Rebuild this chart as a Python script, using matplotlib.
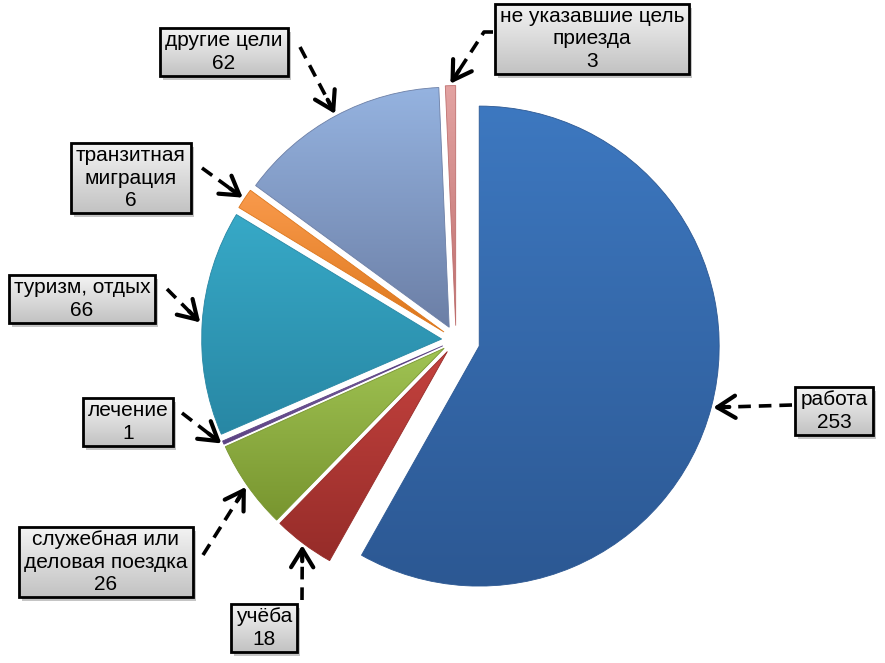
import numpy as np
import matplotlib
matplotlib.use('Agg')
import matplotlib.pyplot as plt
from matplotlib.patches import Rectangle
from matplotlib.colors import LinearSegmentedColormap

plt.rcParams['font.family'] = ['Liberation Sans', 'DejaVu Sans']

# === данные ===
categories = ['работа', 'учёба', 'служебная или\nделовая поездка', 'лечение',
              'туризм, отдых', 'транзитная\nмиграция', 'другие цели',
              'не указавшие цель\nприезда']
values = [253, 18, 26, 1, 66, 6, 62, 3]

# цвета секторов (светлый верх -> тёмный низ)
shades = [('#3D78C0', '#2C5893'), ('#C4423E', '#962C29'), ('#A0C353', '#78952F'),
          ('#8064A8', '#5C4384'), ('#37A9C7', '#2887A4'), ('#F99A4C', '#DD771C'),
          ('#95B3E0', '#6C7FA6'), ('#E3A3A2', '#BE6F6E')]
explode = [0.1, 0.06, 0.06, 0.06, 0.06, 0.06, 0.06, 0.06]

# центры подписей и начала выносок (в пикселях, y сверху)
box_centers = [(834, 411), (264, 628), (106, 562), (128, 422),
               (82, 299), (131, 178), (224, 52), (592, 39)]
line_starts = [[(792, 405)], [(302, 600)], [(203, 555)], [(182, 413)],
               [(167, 289)], [(202, 168)], [(300, 47)], [(493, 32), (484, 32)]]

W, H = 885, 663


def py(y):
    return H - y


fig = plt.figure(figsize=(W / 100, H / 100), dpi=100)
ax = fig.add_axes([0, 0, 1, 1])

R = 240
center = (456, py(340))
# в pie смещение explode задаётся в единицах данных, поэтому умножаем на R
wedges, _ = ax.pie(values, startangle=90, counterclock=False,
                   explode=[e * R for e in explode],
                   radius=R, center=center, colors=[s[0] for s in shades],
                   wedgeprops=dict(linewidth=0))

# градиентная заливка секторов
grad = np.linspace(0, 1, 256).reshape(-1, 1)
for w, (c1, c2) in zip(wedges, shades):
    ext = w.get_path().get_extents()
    cmap = LinearSegmentedColormap.from_list('', [c1, c2])
    im = ax.imshow(grad, cmap=cmap, extent=(ext.x0, ext.x1, ext.y0, ext.y1),
                   origin='upper', aspect='auto', zorder=2)
    im.set_clip_path(w)
    w.set_facecolor('none')
    w.set_edgecolor(c2)
    w.set_linewidth(0.6)
    w.set_zorder(3)

ax.set_xlim(0, W)
ax.set_ylim(0, H)
ax.set_aspect('equal')
ax.axis('off')

# подписи
texts = []
for lab, val, (bx, by) in zip(categories, values, box_centers):
    t = ax.text(bx, py(by), f'{lab}\n{val}', ha='center', va='center',
                multialignment='center', fontsize=15, linespacing=1.25, zorder=6)
    texts.append(t)

fig.canvas.draw()
rend = fig.canvas.get_renderer()
box_grad = LinearSegmentedColormap.from_list('', ['#F4F4F4', '#C2C2C2'])
padx, pady = 5, 3
for t in texts:
    bb = t.get_window_extent(rend).transformed(ax.transData.inverted())
    x0, y0 = bb.x0 - padx, bb.y0 - pady
    w_, h_ = bb.width + 2 * padx, bb.height + 2 * pady
    ax.add_patch(Rectangle((x0 + 3, y0 - 4), w_, h_, color='#7f7f7f', alpha=0.45,
                           lw=0, zorder=4))
    ax.imshow(grad, cmap=box_grad, extent=(x0, x0 + w_, y0, y0 + h_),
              origin='upper', aspect='auto', zorder=4.5)
    ax.add_patch(Rectangle((x0, y0), w_, h_, facecolor='none', edgecolor='black',
                           lw=2.0, zorder=5))

# выноски со стрелками
for w, starts in zip(wedges, line_starts):
    th = np.deg2rad((w.theta1 + w.theta2) / 2)
    tip = np.array(w.center) + (R + 2) * np.array([np.cos(th), np.sin(th)])
    pts = np.array([(x, py(y)) for x, y in starts] + [tuple(tip)])
    d = pts[-1] - pts[-2]
    u = d / np.hypot(*d)
    line = pts.copy()
    line[-1] = tip - u * 6
    ax.plot(line[:, 0], line[:, 1], color='black', lw=2.6,
            dashes=(3.5, 2.2), solid_capstyle='butt', zorder=7)
    ax.annotate('', xy=tip, xytext=tip - u * 16,
                arrowprops=dict(arrowstyle='->,head_length=0.65,head_width=0.4',
                                lw=3.0, color='black', shrinkA=0, shrinkB=0,
                                mutation_scale=20), zorder=7)

ax.set_xlim(0, W)
ax.set_ylim(0, H)
ax.set_aspect('equal')

fig.savefig('out.png', dpi=100)
